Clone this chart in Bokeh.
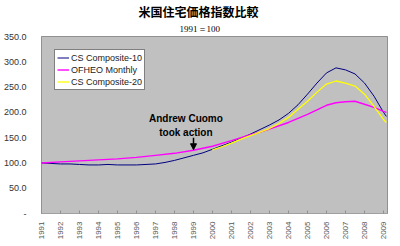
from bokeh.plotting import figure
from bokeh.models import Label, Legend, LegendItem, Arrow, NormalHead, FixedTicker, BoxAnnotation, Title
from bokeh.embed import file_html
from bokeh.resources import INLINE

title_text = "米国住宅価格指数比較"
subtitle_text = "1991＝100"
note_lines = ["Andrew Cuomo", "took action"]

years = list(range(1991, 2010))
year_labels = [str(y) for y in years]
y_ticks = [0, 50, 100, 150, 200, 250, 300, 350]
y_labels = ["-", "50.0", "100.0", "150.0", "200.0", "250.0", "300.0", "350.0"]

cs10_t = [1991.0, 1991.5, 1992.0, 1992.5, 1993.0, 1993.5, 1994.0, 1994.5, 1995.0, 1995.5,
          1996.0, 1996.5, 1997.0, 1997.5, 1998.0, 1998.5, 1999.0, 1999.5, 2000.0, 2000.5,
          2001.0, 2001.5, 2002.0, 2002.5, 2003.0, 2003.5, 2004.0, 2004.5, 2005.0, 2005.5,
          2006.0, 2006.5, 2007.0, 2007.5, 2008.0, 2008.5, 2009.0, 2009.15]
cs10_v = [100, 99, 98, 98, 97, 96, 96, 97, 96, 96,
          96, 97, 98, 101, 105, 110, 115, 120, 127, 134,
          141, 149, 157, 166, 175, 185, 198, 215, 236, 258,
          278, 288, 284, 276, 258, 232, 200, 192]

ofheo_t = [1991.0, 1992.0, 1993.0, 1994.0, 1995.0, 1996.0, 1997.0, 1998.0, 1999.0, 2000.0,
           2001.0, 2002.0, 2002.5, 2003.0, 2004.0, 2005.0, 2006.0, 2006.5, 2007.0, 2007.5,
           2008.0, 2008.5, 2009.0, 2009.15]
ofheo_v = [100, 102, 104, 106, 108, 111, 115, 119, 125, 133,
           144, 156, 161, 167, 180, 196, 214, 219, 221, 222,
           216, 210, 202, 200]

cs20_t = [2000.0, 2000.5, 2001.0, 2001.5, 2002.0, 2002.5, 2003.0, 2003.5, 2004.0, 2004.5,
          2005.0, 2005.5, 2006.0, 2006.5, 2007.0, 2007.5, 2008.0, 2008.5, 2009.0, 2009.15]
cs20_v = [126, 132, 139, 147, 154, 161, 168, 178, 190, 206,
          222, 240, 256, 262, 258, 252, 236, 212, 186, 180]

p = figure(width=400, height=246, output_backend="svg", toolbar_location=None,
           x_range=(1991, 2009.21), y_range=(0, 350),
           min_border_left=41, min_border_right=13, min_border_top=0, min_border_bottom=33)
p.background_fill_color = "#C0C0C0"
p.background_fill_alpha = 1
p.border_fill_color = "white"
p.outline_line_color = "#808080"

p.add_layout(BoxAnnotation(fill_color="#C0C0C0", fill_alpha=1, line_color=None, level="underlay"))

l1 = p.line(cs10_t, cs10_v, line_color="#000080", line_width=1)
l2 = p.line(ofheo_t, ofheo_v, line_color="#FF00FF", line_width=1.4)
l3 = p.line(cs20_t, cs20_v, line_color="#FFFF00", line_width=1.3)

p.xgrid.visible = False
p.ygrid.ticker = FixedTicker(ticks=y_ticks)
p.ygrid.grid_line_color = "#808080"

p.yaxis.ticker = FixedTicker(ticks=y_ticks)
p.yaxis.major_label_overrides = {t: s for t, s in zip(y_ticks, y_labels)}
p.yaxis.major_label_text_font = "Liberation Sans"
p.yaxis.major_label_text_font_size = "9px"
p.yaxis.major_label_text_color = "#333333"
p.yaxis.axis_line_color = None
p.yaxis.major_tick_line_color = None
p.yaxis.minor_tick_line_color = None
p.yaxis.major_label_standoff = 9

p.xaxis.ticker = FixedTicker(ticks=years)
p.xaxis.major_label_overrides = {y: s for y, s in zip(years, year_labels)}
p.xaxis.major_label_orientation = 1.5708
p.xaxis.major_label_text_font = "Liberation Sans"
p.xaxis.major_label_text_font_size = "8px"
p.xaxis.major_label_text_color = "#555555"
p.xaxis.axis_line_color = "#A0A0A0"
p.xaxis.major_tick_line_color = "#909090"
p.xaxis.major_tick_in = 3
p.xaxis.major_tick_out = 0
p.xaxis.minor_tick_line_color = None
p.xaxis.major_label_standoff = 8

legend = Legend(items=[LegendItem(label="CS Composite-10", renderers=[l1]),
                       LegendItem(label="OFHEO Monthly", renderers=[l2]),
                       LegendItem(label="CS Composite-20", renderers=[l3])],
                location=(13, 123))
legend.margin = 0
legend.padding = 2
legend.spacing = 1
legend.label_height = 11
legend.glyph_height = 11
legend.glyph_width = 12
legend.label_standoff = 2
legend.label_text_font = "Liberation Sans"
legend.label_text_font_size = "9px"
legend.label_text_color = "#222222"
legend.border_line_color = "black"
legend.border_line_width = 1
legend.background_fill_color = "white"
legend.background_fill_alpha = 1
p.add_layout(legend)

p.add_layout(Label(x=1998.6, y=187, text=note_lines[0], text_align="center", text_baseline="middle",
                   text_font="Liberation Sans", text_font_style="bold", text_font_size="10px",
                   text_color="black"))
p.add_layout(Label(x=1998.6, y=160, text=note_lines[1], text_align="center", text_baseline="middle",
                   text_font="Liberation Sans", text_font_style="bold", text_font_size="10px",
                   text_color="black"))
p.add_layout(Arrow(x_start=1999.0, y_start=150, x_end=1999.0, y_end=126, line_color="black", line_width=1.5,
                   end=NormalHead(size=6, fill_color="black", line_color="black")))

p.add_layout(Title(text=subtitle_text, align="left", text_font="Liberation Serif",
                   text_font_size="9px", text_font_style="normal", text_color="black",
                   offset=138, standoff=5), "above")
p.add_layout(Title(text=title_text, align="left", text_font="Noto Sans CJK JP",
                   text_font_size="12px", text_font_style="bold", text_color="black",
                   offset=97, standoff=0), "above")

open("out.html", "w").write(file_html(p, INLINE))
